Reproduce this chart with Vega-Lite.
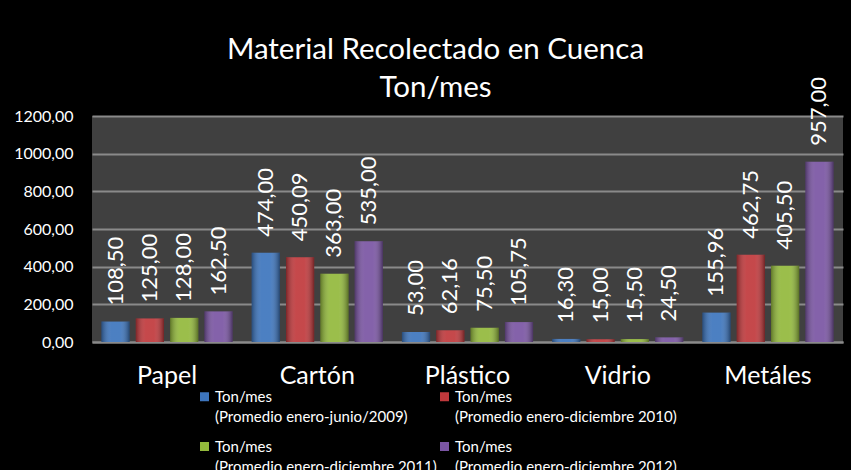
{
  "$schema": "https://vega.github.io/schema/vega-lite/v6.json",
  "width": 751,
  "height": 226,
  "autosize": {"type": "none"},
  "padding": {"left": 92, "top": 116, "right": 8, "bottom": 128},
  "background": "#000000",
  "config": {
    "locale": {"number": {"decimal": ",", "thousands": ".", "grouping": [3], "currency": ["", ""]}},
    "view": {"fill": "#404040", "stroke": null},
    "font": "Lato",
    "style": {"guide-label": {"lineHeight": 20}}
  },
  "title": {
    "text": ["Material Recolectado en Cuenca", "Ton/mes"],
    "color": "white",
    "fontSize": 29.5,
    "fontWeight": "normal",
    "font": "Lato",
    "lineHeight": 38,
    "anchor": "middle",
    "dx": -32,
    "offset": -27
  },
  "data": {
    "values": [
      {"material": "Papel", "serie": "Ton/mes (Promedio enero-junio/2009)", "valor": 108.5},
      {"material": "Papel", "serie": "Ton/mes (Promedio enero-diciembre 2010)", "valor": 125},
      {"material": "Papel", "serie": "Ton/mes (Promedio enero-diciembre 2011)", "valor": 128},
      {"material": "Papel", "serie": "Ton/mes (Promedio enero-diciembre 2012)", "valor": 162.5},
      {"material": "Cartón", "serie": "Ton/mes (Promedio enero-junio/2009)", "valor": 474},
      {"material": "Cartón", "serie": "Ton/mes (Promedio enero-diciembre 2010)", "valor": 450.09},
      {"material": "Cartón", "serie": "Ton/mes (Promedio enero-diciembre 2011)", "valor": 363},
      {"material": "Cartón", "serie": "Ton/mes (Promedio enero-diciembre 2012)", "valor": 535},
      {"material": "Plástico", "serie": "Ton/mes (Promedio enero-junio/2009)", "valor": 53},
      {"material": "Plástico", "serie": "Ton/mes (Promedio enero-diciembre 2010)", "valor": 62.16},
      {"material": "Plástico", "serie": "Ton/mes (Promedio enero-diciembre 2011)", "valor": 75.5},
      {"material": "Plástico", "serie": "Ton/mes (Promedio enero-diciembre 2012)", "valor": 105.75},
      {"material": "Vidrio", "serie": "Ton/mes (Promedio enero-junio/2009)", "valor": 16.3},
      {"material": "Vidrio", "serie": "Ton/mes (Promedio enero-diciembre 2010)", "valor": 15},
      {"material": "Vidrio", "serie": "Ton/mes (Promedio enero-diciembre 2011)", "valor": 15.5},
      {"material": "Vidrio", "serie": "Ton/mes (Promedio enero-diciembre 2012)", "valor": 24.5},
      {"material": "Metáles", "serie": "Ton/mes (Promedio enero-junio/2009)", "valor": 155.96},
      {"material": "Metáles", "serie": "Ton/mes (Promedio enero-diciembre 2010)", "valor": 462.75},
      {"material": "Metáles", "serie": "Ton/mes (Promedio enero-diciembre 2011)", "valor": 405.5},
      {"material": "Metáles", "serie": "Ton/mes (Promedio enero-diciembre 2012)", "valor": 957}
    ]
  },
  "encoding": {
    "x": {
      "field": "material",
      "type": "nominal",
      "sort": null,
      "scale": {"paddingInner": 0.127, "paddingOuter": 0.063},
      "axis": {
        "title": null,
        "labelAngle": 0,
        "labelColor": "white",
        "labelFontSize": 25,
        "labelPadding": 41,
        "labelBaseline": "alphabetic",
        "ticks": false,
        "domainColor": "#8a8a8a",
        "domainWidth": 2
      }
    },
    "xOffset": {
      "field": "serie",
      "type": "nominal",
      "sort": null,
      "scale": {"paddingInner": 0.18, "paddingOuter": 0}
    },
    "y": {
      "field": "valor",
      "type": "quantitative",
      "scale": {"domain": [0, 1200], "nice": false},
      "axis": {
        "title": null,
        "values": [0, 200, 400, 600, 800, 1000, 1200],
        "format": ".2f",
        "labelColor": "white",
        "labelFontSize": 16,
        "labelPadding": 19,
        "ticks": false,
        "domain": false,
        "gridColor": "#8a8a8a",
        "gridWidth": 2
      }
    }
  },
  "layer": [
    {
      "mark": {"type": "bar"},
      "encoding": {
        "color": {
          "field": "serie",
          "type": "nominal",
          "sort": null,
          "scale": {"range": ["#3d75bd", "#c0393c", "#93b93c", "#7a55a3"]},
          "legend": {
            "title": null,
            "orient": "none",
            "legendX": 105,
            "legendY": 273,
            "columns": 2,
            "direction": "horizontal",
            "symbolType": "square",
            "symbolSize": 81,
            "symbolStrokeWidth": 0,
            "symbolOpacity": 1,
            "labelColor": "white",
            "labelFontSize": 15,
            "labelOffset": 3,
            "labelLimit": 320,
            "labelBaseline": "middle",
            "labelExpr": "[slice(datum.label, 0, 7), slice(datum.label, 8)]",
            "columnPadding": -4,
            "rowPadding": 14
          }
        }
      }
    },
    {
      "mark": {
        "type": "bar",
        "color": {
          "gradient": "linear",
          "x1": 0, "x2": 1, "y1": 0, "y2": 0,
          "stops": [
            {"offset": 0, "color": "rgba(0,0,0,0.35)"},
            {"offset": 0.35, "color": "rgba(255,255,255,0.08)"},
            {"offset": 0.65, "color": "rgba(255,255,255,0.08)"},
            {"offset": 1, "color": "rgba(0,0,0,0.4)"}
          ]
        }
      }
    },
    {
      "mark": {"type": "text", "angle": 270, "align": "left", "baseline": "middle", "dx": 16, "fontSize": 22, "color": "white"},
      "encoding": {
        "text": {"field": "valor", "type": "quantitative", "format": ".2f"}
      }
    }
  ]
}
